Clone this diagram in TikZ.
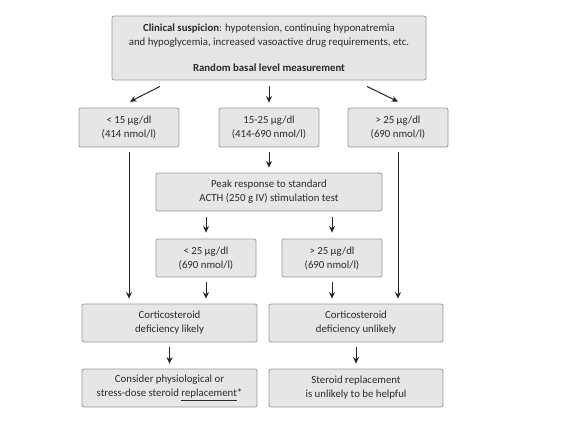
\documentclass[tikz,border=0pt]{standalone}
\usepackage{fontspec}
\setmainfont{Carlito}
\usetikzlibrary{arrows.meta,calc}
\definecolor{boxfill}{HTML}{E6E6E6}
\definecolor{boxline}{HTML}{9A9A9A}
\definecolor{txt}{HTML}{2A2A2A}
\definecolor{arrcol}{HTML}{262626}
\begin{document}
\begin{tikzpicture}[x=1pt,y=-1pt,
  box/.style={draw=boxline,fill=boxfill,rounded corners=2pt,line width=0.8pt,
    text=txt,align=center,inner sep=0pt,font=\fontsize{10.8}{14}\selectfont},
  arr/.style={draw=arrcol,line width=1pt,-{Stealth[length=6.5pt,width=6pt]}}]
\useasboundingbox[fill=white] (0,0) rectangle (566,424);
\node[box,minimum width=314pt,minimum height=64pt] (top) at (269,48)
  {\textbf{Clinical suspicion}: hypotension, continuing hyponatremia\\
   and hypoglycemia, increased vasoactive drug requirements, etc.\\[12pt]
   \textbf{Random basal level measurement}};
\node[box,minimum width=100pt,minimum height=39pt] (lo) at (129,127.5) {< 15 µg/dl\\(414 nmol/l)};
\node[box,minimum width=100pt,minimum height=39pt] (mid) at (269,127.5) {15-25 µg/dl\\(414-690 nmol/l)};
\node[box,minimum width=100pt,minimum height=39pt] (hi) at (398,127.5) {> 25 µg/dl\\(690 nmol/l)};
\node[box,minimum width=226pt,minimum height=38pt] (peak) at (269,192) {Peak response to standard\\ACTH (250 g IV) stimulation test};
\node[box,minimum width=100pt,minimum height=38pt] (plo) at (206,258) {< 25 µg/dl\\(690 nmol/l)};
\node[box,minimum width=100pt,minimum height=38pt] (phi) at (332,258) {> 25 µg/dl\\(690 nmol/l)};
\node[box,minimum width=175pt,minimum height=38pt] (cl) at (169.5,323) {Corticosteroid\\deficiency likely};
\node[box,minimum width=174pt,minimum height=38pt] (cu) at (356,323) {Corticosteroid\\deficiency unlikely};
\node[box,minimum width=175pt,minimum height=38pt] (rl) at (169.5,388) {Consider physiological or\\stress-dose steroid \underline{replacement}*};
\node[box,minimum width=174pt,minimum height=38pt] (ru) at (356,388) {Steroid replacement\\is unlikely to be helpful};
% arrows from top
\draw[arr] ($(top.south)+(-109,6)$) -- ($(lo.north)+(1,-6)$);
\draw[arr] ($(top.south)+(0,6)$) -- ($(mid.north)+(0,-5)$);
\draw[arr] ($(top.south)+(98,6)$) -- ($(hi.north)+(0,-6)$);
% mid to peak
\draw[arr,shorten <=5pt,shorten >=5pt] (mid.south) -- (peak.north);
% long lines
\draw[arr,shorten <=5pt,shorten >=5pt] (lo.south) -- (lo.south |- cl.north);
\draw[arr,shorten <=5pt,shorten >=5pt] (hi.south) -- (hi.south |- cu.north);
% peak to results
\draw[arr,shorten <=6pt,shorten >=6pt] (plo.north |- peak.south) -- (plo.north);
\draw[arr,shorten <=6pt,shorten >=6pt] (phi.north |- peak.south) -- (phi.north);
\draw[arr,shorten <=5pt,shorten >=5pt] (plo.south) -- (plo.south |- cl.north);
\draw[arr,shorten <=5pt,shorten >=5pt] (phi.south) -- (phi.south |- cu.north);
% to recommendations
\draw[arr,shorten <=5pt,shorten >=5pt] (cl.south) -- (rl.north);
\draw[arr,shorten <=5pt,shorten >=5pt] (cu.south) -- (ru.north);
\end{tikzpicture}
\end{document}
